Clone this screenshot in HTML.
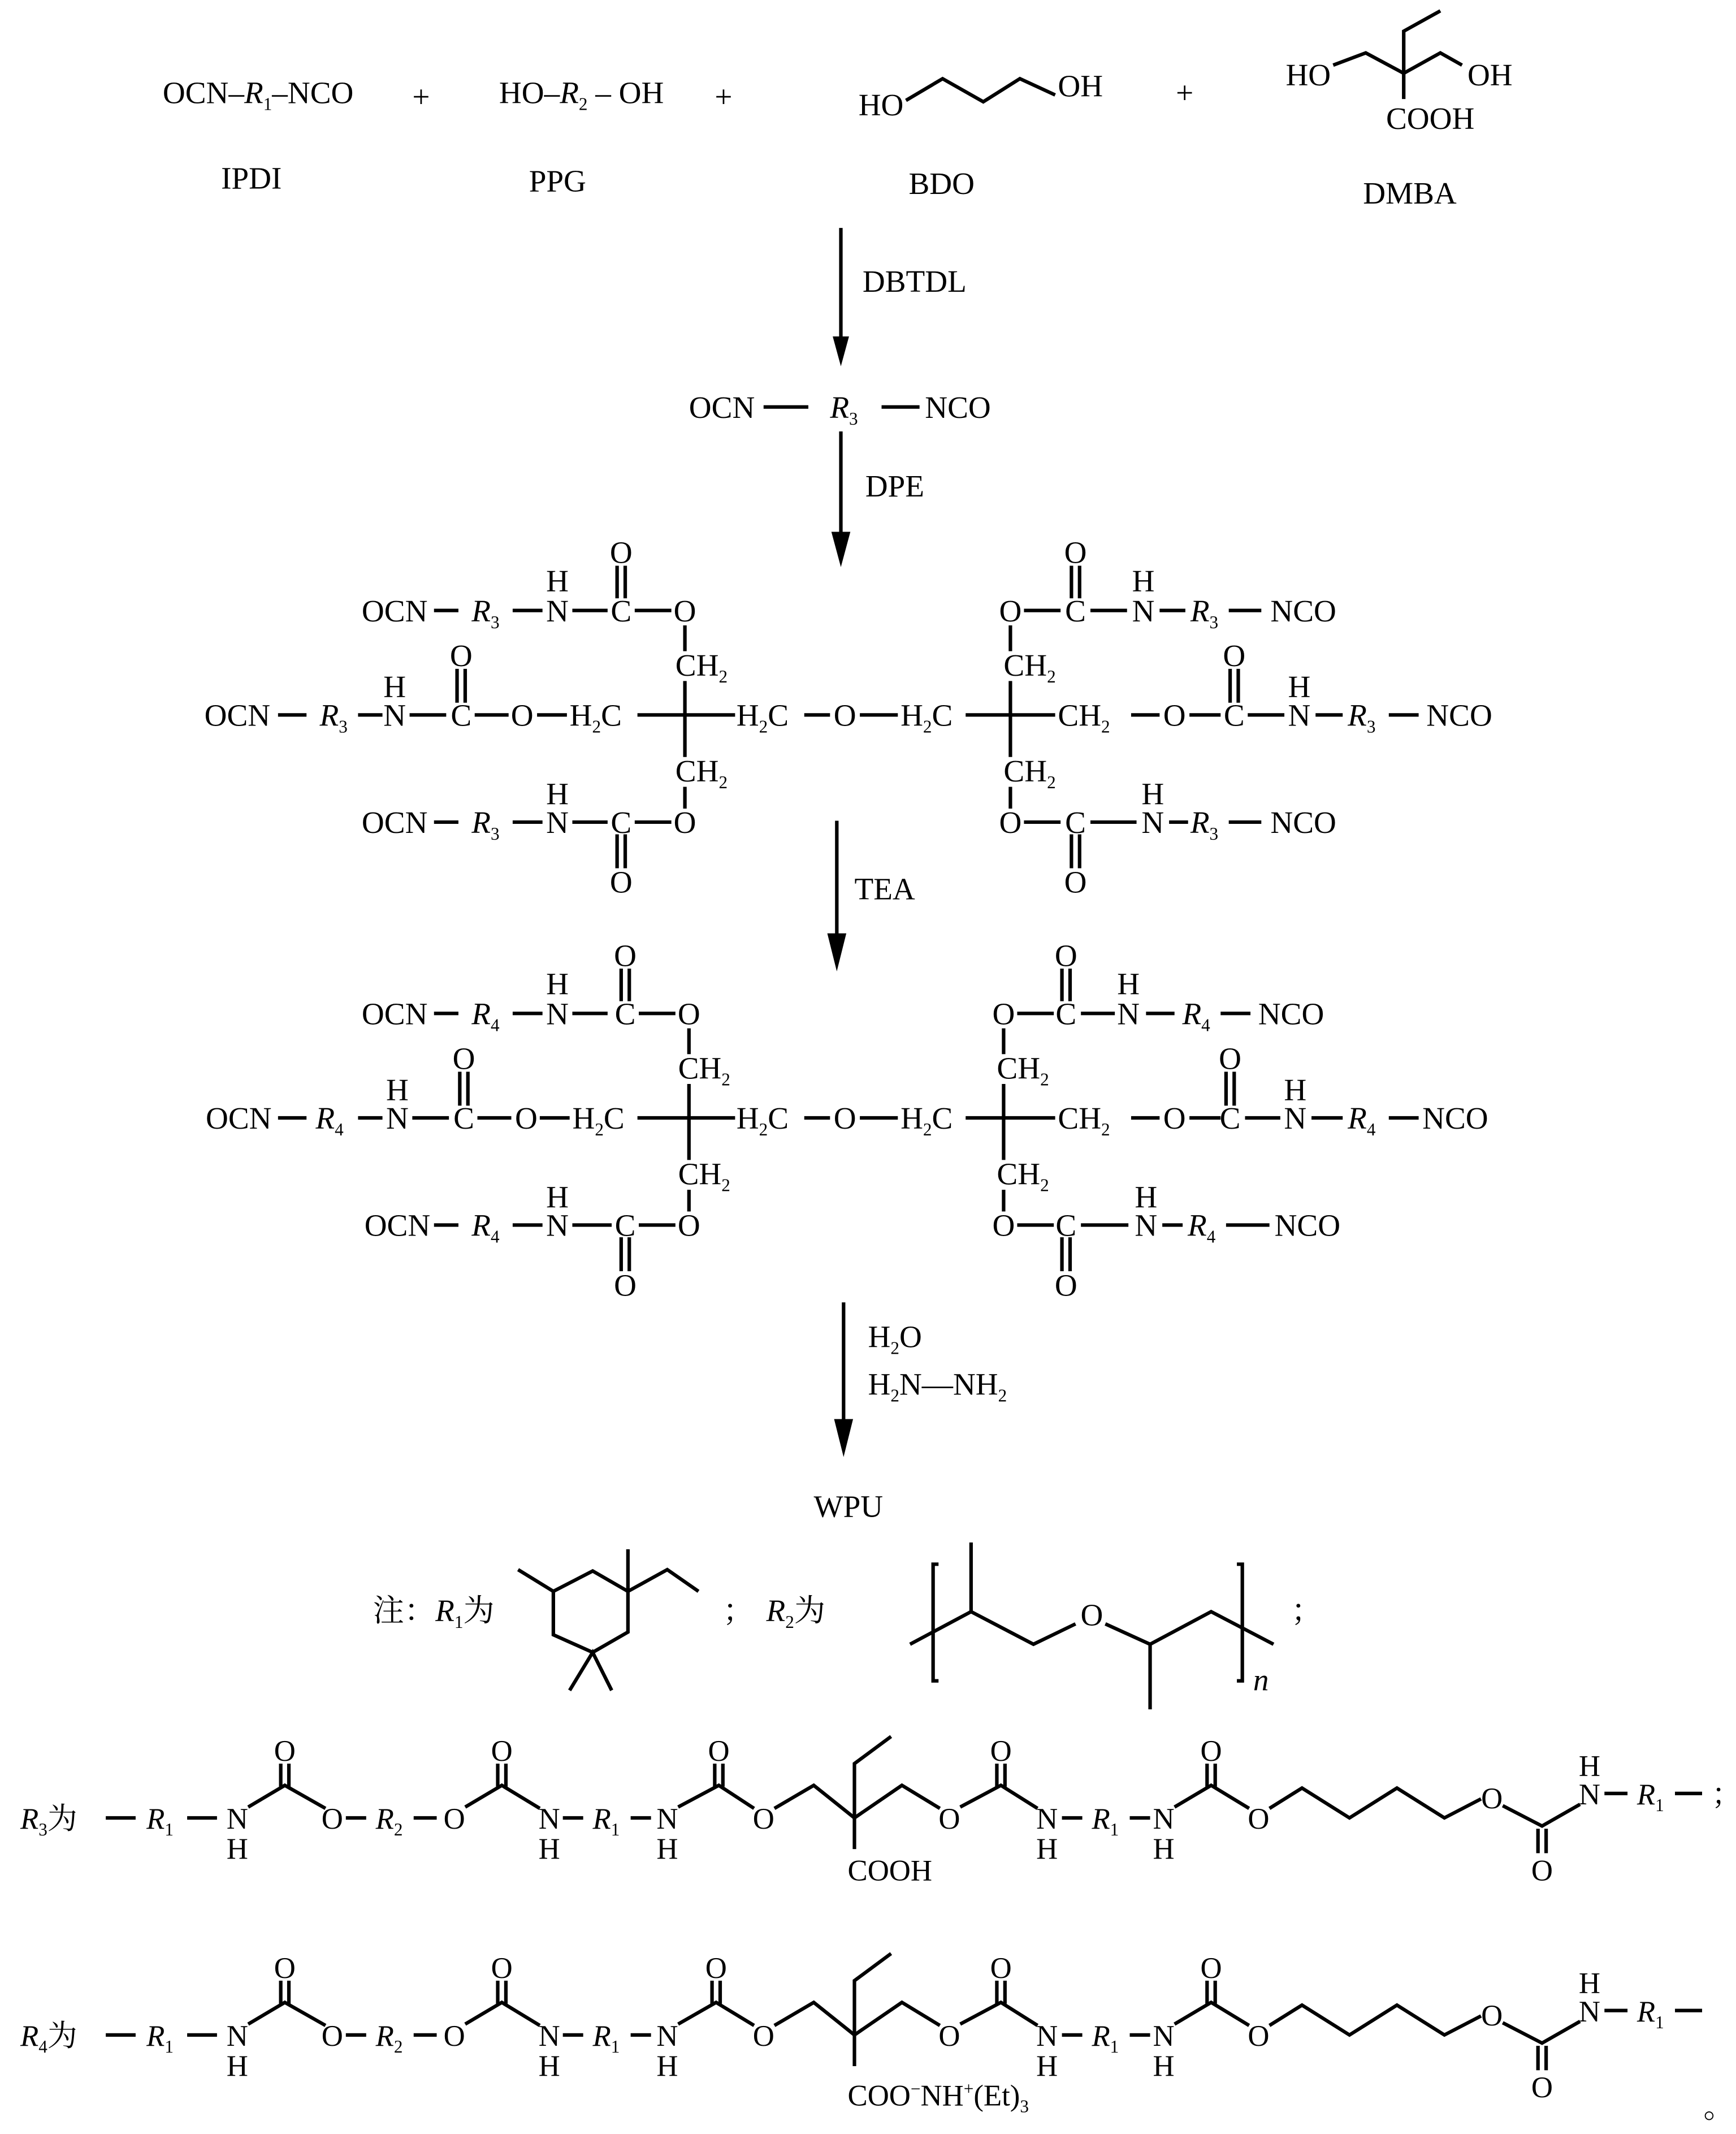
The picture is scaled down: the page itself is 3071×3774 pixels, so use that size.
<!DOCTYPE html>
<html><head><meta charset="utf-8"><style>
html,body{margin:0;padding:0;background:#fff}
svg{display:block}
text{font-family:"Liberation Serif","Noto Serif CJK SC","Noto Sans CJK SC",serif;font-size:23px;fill:#000}
.m{text-anchor:middle}
.s{font-size:13px}
.i{font-style:italic}
.b text{font-size:22px}
.b .s{font-size:13px}
line,polyline{stroke:#000;stroke-width:2.6;fill:none}
</style></head><body>
<svg width="3071" height="3774" viewBox="0 0 1280 1573" xmlns="http://www.w3.org/2000/svg">
<!-- Row 1 -->
<text x="120" y="76">OCN–<tspan class="i">R</tspan><tspan class="s" dy="5">1</tspan><tspan dy="-5">–NCO</tspan></text>
<text x="304" y="79">+</text>
<text x="368" y="76">HO–<tspan class="i">R</tspan><tspan class="s" dy="5">2</tspan><tspan dy="-5"> – OH</tspan></text>
<text x="527" y="79">+</text>
<text x="633" y="85">HO</text>
<polyline points="668,74 695,58 725,75 752,58 778,70"/>
<text x="780" y="71">OH</text>
<text x="867" y="76">+</text>
<text x="948" y="63">HO</text>
<polyline points="983,48 1007,39 1035,54 1062,39 1078,48"/>
<polyline points="1035,73 1035,23 1062,8"/>
<text x="1082" y="63">OH</text>
<text x="1022" y="95">COOH</text>
<text x="163" y="139">IPDI</text>
<text x="390" y="141">PPG</text>
<text x="670" y="143">BDO</text>
<text x="1005" y="150">DMBA</text>
<!-- arrow 1 -->
<line x1="620" y1="168" x2="620" y2="252"/><polygon points="614,248 626,248 620,270"/>
<text x="636" y="215">DBTDL</text>
<text x="508" y="308">OCN</text><line x1="563" y1="300" x2="596" y2="300"/>
<text x="612" y="308"><tspan class="i">R</tspan><tspan class="s" dy="5">3</tspan></text>
<line x1="650" y1="300" x2="678" y2="300"/><text x="682" y="308">NCO</text>
<line x1="620" y1="318" x2="620" y2="395"/><polygon points="613,392 627,392 620,418"/>
<text x="638" y="366">DPE</text>

<!-- Structure 1 -->
<g>
<text class="m" x="291" y="458">OCN</text><line x1="320" y1="450" x2="338" y2="450"/>
<text class="m" x="358" y="458"><tspan class="i">R</tspan><tspan class="s" dy="5">3</tspan></text><line x1="378" y1="450" x2="400" y2="450"/>
<text class="m" x="411" y="458">N</text><text class="m" x="411" y="436">H</text><line x1="422" y1="450" x2="448" y2="450"/>
<text class="m" x="458" y="458">C</text><text class="m" x="458" y="415">O</text>
<line x1="455" y1="417" x2="455" y2="441"/><line x1="461" y1="417" x2="461" y2="441"/>
<line x1="468" y1="450" x2="495" y2="450"/><text class="m" x="505" y="458">O</text>
<line x1="505" y1="461" x2="505" y2="480"/><text x="498" y="498">CH<tspan class="s" dy="5">2</tspan></text>
<line x1="505" y1="502" x2="505" y2="558"/><line x1="470" y1="527" x2="542" y2="527"/>
<text x="498" y="576">CH<tspan class="s" dy="5">2</tspan></text><line x1="505" y1="580" x2="505" y2="596"/>
<text class="m" x="505" y="614">O</text><line x1="468" y1="606" x2="495" y2="606"/>
<text class="m" x="458" y="614">C</text><text class="m" x="458" y="658">O</text>
<line x1="455" y1="615" x2="455" y2="640"/><line x1="461" y1="615" x2="461" y2="640"/>
<line x1="422" y1="606" x2="448" y2="606"/><text class="m" x="411" y="614">N</text><text class="m" x="411" y="593">H</text>
<line x1="378" y1="606" x2="400" y2="606"/><text class="m" x="358" y="614"><tspan class="i">R</tspan><tspan class="s" dy="5">3</tspan></text>
<line x1="320" y1="606" x2="338" y2="606"/><text class="m" x="291" y="614">OCN</text>
<text class="m" x="175" y="535">OCN</text><line x1="205" y1="527" x2="226" y2="527"/>
<text class="m" x="246" y="535"><tspan class="i">R</tspan><tspan class="s" dy="5">3</tspan></text><line x1="264" y1="527" x2="282" y2="527"/>
<text class="m" x="291" y="535">N</text><text class="m" x="291" y="514">H</text><line x1="302" y1="527" x2="329" y2="527"/>
<text class="m" x="340" y="535">C</text><text class="m" x="340" y="491">O</text>
<line x1="337" y1="493" x2="337" y2="518"/><line x1="343" y1="493" x2="343" y2="518"/>
<line x1="350" y1="527" x2="375" y2="527"/><text class="m" x="385" y="535">O</text>
<line x1="396" y1="527" x2="418" y2="527"/><text x="420" y="535">H<tspan class="s" dy="5">2</tspan><tspan dy="-5">C</tspan></text>
<text x="543" y="535">H<tspan class="s" dy="5">2</tspan><tspan dy="-5">C</tspan></text>
<line x1="593" y1="527" x2="612" y2="527"/><text class="m" x="623" y="535">O</text><line x1="634" y1="527" x2="662" y2="527"/>
<text x="664" y="535">H<tspan class="s" dy="5">2</tspan><tspan dy="-5">C</tspan></text>
<line x1="712" y1="527" x2="778" y2="527"/><line x1="745" y1="502" x2="745" y2="558"/>
<text x="780" y="535">CH<tspan class="s" dy="5">2</tspan></text>
<line x1="834" y1="527" x2="855" y2="527"/><text class="m" x="866" y="535">O</text><line x1="877" y1="527" x2="900" y2="527"/>
<text class="m" x="910" y="535">C</text><text class="m" x="910" y="491">O</text>
<line x1="907" y1="493" x2="907" y2="518"/><line x1="913" y1="493" x2="913" y2="518"/>
<line x1="920" y1="527" x2="947" y2="527"/><text class="m" x="958" y="535">N</text><text class="m" x="958" y="514">H</text>
<line x1="970" y1="527" x2="990" y2="527"/><text class="m" x="1004" y="535"><tspan class="i">R</tspan><tspan class="s" dy="5">3</tspan></text>
<line x1="1024" y1="527" x2="1046" y2="527"/><text class="m" x="1076" y="535">NCO</text>
<text class="m" x="745" y="458">O</text><line x1="755" y1="450" x2="782" y2="450"/>
<text class="m" x="793" y="458">C</text><text class="m" x="793" y="415">O</text>
<line x1="790" y1="417" x2="790" y2="441"/><line x1="796" y1="417" x2="796" y2="441"/>
<line x1="804" y1="450" x2="831" y2="450"/><text class="m" x="843" y="458">N</text><text class="m" x="843" y="436">H</text>
<line x1="855" y1="450" x2="874" y2="450"/><text class="m" x="888" y="458"><tspan class="i">R</tspan><tspan class="s" dy="5">3</tspan></text>
<line x1="906" y1="450" x2="930" y2="450"/><text class="m" x="961" y="458">NCO</text>
<line x1="745" y1="461" x2="745" y2="480"/><text x="740" y="498">CH<tspan class="s" dy="5">2</tspan></text>
<text x="740" y="576">CH<tspan class="s" dy="5">2</tspan></text><line x1="745" y1="580" x2="745" y2="596"/>
<text class="m" x="745" y="614">O</text><line x1="755" y1="606" x2="782" y2="606"/>
<text class="m" x="793" y="614">C</text><text class="m" x="793" y="658">O</text>
<line x1="790" y1="615" x2="790" y2="640"/><line x1="796" y1="615" x2="796" y2="640"/>
<line x1="804" y1="606" x2="838" y2="606"/><text class="m" x="850" y="614">N</text><text class="m" x="850" y="593">H</text>
<line x1="862" y1="606" x2="876" y2="606"/><text class="m" x="888" y="614"><tspan class="i">R</tspan><tspan class="s" dy="5">3</tspan></text>
<line x1="906" y1="606" x2="930" y2="606"/><text class="m" x="961" y="614">NCO</text>
</g>
<!-- arrow 3 -->
<line x1="617" y1="605" x2="617" y2="692"/><polygon points="610,688 624,688 617,716"/>
<text x="630" y="663">TEA</text>

<!-- Structure 2 -->
<g transform="translate(0,297)">
<text class="m" x="291" y="458">OCN</text><line x1="320" y1="450" x2="338" y2="450"/>
<text class="m" x="358" y="458"><tspan class="i">R</tspan><tspan class="s" dy="5">4</tspan></text><line x1="378" y1="450" x2="400" y2="450"/>
<text class="m" x="411" y="458">N</text><text class="m" x="411" y="436">H</text><line x1="422" y1="450" x2="448" y2="450"/>
<text class="m" x="461" y="458">C</text><text class="m" x="461" y="415">O</text>
<line x1="458" y1="417" x2="458" y2="441"/><line x1="464" y1="417" x2="464" y2="441"/>
<line x1="471" y1="450" x2="498" y2="450"/><text class="m" x="508" y="458">O</text>
<line x1="508" y1="461" x2="508" y2="480"/><text x="500" y="498">CH<tspan class="s" dy="5">2</tspan></text>
<line x1="508" y1="502" x2="508" y2="558"/><line x1="470" y1="527" x2="542" y2="527"/>
<text x="500" y="576">CH<tspan class="s" dy="5">2</tspan></text><line x1="508" y1="580" x2="508" y2="596"/>
<text class="m" x="508" y="614">O</text><line x1="471" y1="606" x2="498" y2="606"/>
<text class="m" x="461" y="614">C</text><text class="m" x="461" y="658">O</text>
<line x1="458" y1="615" x2="458" y2="640"/><line x1="464" y1="615" x2="464" y2="640"/>
<line x1="422" y1="606" x2="451" y2="606"/><text class="m" x="411" y="614">N</text><text class="m" x="411" y="593">H</text>
<line x1="378" y1="606" x2="400" y2="606"/><text class="m" x="358" y="614"><tspan class="i">R</tspan><tspan class="s" dy="5">4</tspan></text>
<line x1="320" y1="606" x2="338" y2="606"/><text class="m" x="293" y="614">OCN</text>
<text class="m" x="176" y="535">OCN</text><line x1="205" y1="527" x2="226" y2="527"/>
<text class="m" x="243" y="535"><tspan class="i">R</tspan><tspan class="s" dy="5">4</tspan></text><line x1="264" y1="527" x2="282" y2="527"/>
<text class="m" x="293" y="535">N</text><text class="m" x="293" y="514">H</text><line x1="304" y1="527" x2="331" y2="527"/>
<text class="m" x="342" y="535">C</text><text class="m" x="342" y="491">O</text>
<line x1="339" y1="493" x2="339" y2="518"/><line x1="345" y1="493" x2="345" y2="518"/>
<line x1="352" y1="527" x2="377" y2="527"/><text class="m" x="388" y="535">O</text>
<line x1="398" y1="527" x2="420" y2="527"/><text x="422" y="535">H<tspan class="s" dy="5">2</tspan><tspan dy="-5">C</tspan></text>
<text x="543" y="535">H<tspan class="s" dy="5">2</tspan><tspan dy="-5">C</tspan></text>
<line x1="593" y1="527" x2="612" y2="527"/><text class="m" x="623" y="535">O</text><line x1="634" y1="527" x2="662" y2="527"/>
<text x="664" y="535">H<tspan class="s" dy="5">2</tspan><tspan dy="-5">C</tspan></text>
<line x1="712" y1="527" x2="778" y2="527"/><line x1="740" y1="502" x2="740" y2="558"/>
<text x="780" y="535">CH<tspan class="s" dy="5">2</tspan></text>
<line x1="834" y1="527" x2="855" y2="527"/><text class="m" x="866" y="535">O</text><line x1="877" y1="527" x2="900" y2="527"/>
<text class="m" x="907" y="535">C</text><text class="m" x="907" y="491">O</text>
<line x1="904" y1="493" x2="904" y2="518"/><line x1="910" y1="493" x2="910" y2="518"/>
<line x1="918" y1="527" x2="944" y2="527"/><text class="m" x="955" y="535">N</text><text class="m" x="955" y="514">H</text>
<line x1="967" y1="527" x2="990" y2="527"/><text class="m" x="1004" y="535"><tspan class="i">R</tspan><tspan class="s" dy="5">4</tspan></text>
<line x1="1024" y1="527" x2="1046" y2="527"/><text class="m" x="1073" y="535">NCO</text>
<text class="m" x="740" y="458">O</text><line x1="750" y1="450" x2="777" y2="450"/>
<text class="m" x="786" y="458">C</text><text class="m" x="786" y="415">O</text>
<line x1="783" y1="417" x2="783" y2="441"/><line x1="789" y1="417" x2="789" y2="441"/>
<line x1="797" y1="450" x2="822" y2="450"/><text class="m" x="832" y="458">N</text><text class="m" x="832" y="436">H</text>
<line x1="845" y1="450" x2="866" y2="450"/><text class="m" x="882" y="458"><tspan class="i">R</tspan><tspan class="s" dy="5">4</tspan></text>
<line x1="900" y1="450" x2="922" y2="450"/><text class="m" x="952" y="458">NCO</text>
<line x1="740" y1="461" x2="740" y2="480"/><text x="735" y="498">CH<tspan class="s" dy="5">2</tspan></text>
<text x="735" y="576">CH<tspan class="s" dy="5">2</tspan></text><line x1="740" y1="580" x2="740" y2="596"/>
<text class="m" x="740" y="614">O</text><line x1="750" y1="606" x2="777" y2="606"/>
<text class="m" x="786" y="614">C</text><text class="m" x="786" y="658">O</text>
<line x1="783" y1="615" x2="783" y2="640"/><line x1="789" y1="615" x2="789" y2="640"/>
<line x1="797" y1="606" x2="832" y2="606"/><text class="m" x="845" y="614">N</text><text class="m" x="845" y="593">H</text>
<line x1="857" y1="606" x2="872" y2="606"/><text class="m" x="886" y="614"><tspan class="i">R</tspan><tspan class="s" dy="5">4</tspan></text>
<line x1="904" y1="606" x2="936" y2="606"/><text class="m" x="964" y="614">NCO</text>
</g>
<!-- arrow 4 -->
<line x1="622" y1="960" x2="622" y2="1050"/><polygon points="615,1046 629,1046 622,1074"/>
<text x="640" y="993">H<tspan class="s" dy="5">2</tspan><tspan dy="-5">O</tspan></text>
<text x="640" y="1028">H<tspan class="s" dy="5">2</tspan><tspan dy="-5">N—NH</tspan><tspan class="s" dy="5">2</tspan></text>
<text x="600" y="1118">WPU</text>

<!-- Note -->
<text x="275" y="1195">注：<tspan class="i">R</tspan><tspan class="s" dy="5">1</tspan><tspan dy="-5">为</tspan></text>
<polyline points="382,1157 408,1173 437,1158 463,1173 492,1157 515,1173"/>
<polyline points="463,1142 463,1203 437,1218 408,1205 408,1173"/>
<polyline points="420,1246 437,1218 451,1246"/>
<text x="533" y="1195">；</text>
<text x="565" y="1195"><tspan class="i">R</tspan><tspan class="s" dy="5">2</tspan><tspan dy="-5">为</tspan></text>
<polyline points="692,1153 688,1153 688,1239 692,1239"/>
<polyline points="912,1153 916,1153 916,1239 912,1239"/>
<polyline points="671,1212 716,1188 762,1212 793,1197"/>
<line x1="716" y1="1188" x2="716" y2="1137"/>
<text class="m" x="805" y="1198">O</text>
<polyline points="815,1197 848,1212 893,1188 939,1212"/>
<line x1="848" y1="1212" x2="848" y2="1260"/>
<text x="924" y="1246" class="i">n</text>
<text x="952" y="1195">；</text>

<!-- R3 row -->
<g class="b">
<text x="15" y="1348"><tspan class="i">R</tspan><tspan class="s" dy="5">3</tspan><tspan dy="-5">为</tspan></text>
<line x1="78" y1="1340" x2="100" y2="1340"/>
<text x="108" y="1348"><tspan class="i">R</tspan><tspan class="s" dy="5">1</tspan></text>
<line x1="138" y1="1340" x2="160" y2="1340"/>
<text class="m" x="175" y="1348">N</text><text class="m" x="175" y="1370">H</text>
<polyline points="183,1332 210,1316 240,1333"/><line x1="207" y1="1300" x2="207" y2="1317"/><line x1="213" y1="1300" x2="213" y2="1317"/><text class="m" x="210" y="1298">O</text>
<text class="m" x="245" y="1348">O</text><line x1="255" y1="1340" x2="270" y2="1340"/>
<text class="m" x="287" y="1348"><tspan class="i">R</tspan><tspan class="s" dy="5">2</tspan></text>
<line x1="305" y1="1340" x2="322" y2="1340"/><text class="m" x="335" y="1348">O</text>
<polyline points="343,1332 370,1316 398,1333"/><line x1="367" y1="1300" x2="367" y2="1317"/><line x1="373" y1="1300" x2="373" y2="1317"/><text class="m" x="370" y="1298">O</text>
<text class="m" x="405" y="1348">N</text><text class="m" x="405" y="1370">H</text>
<line x1="415" y1="1340" x2="430" y2="1340"/><text class="m" x="447" y="1348"><tspan class="i">R</tspan><tspan class="s" dy="5">1</tspan></text>
<line x1="465" y1="1340" x2="480" y2="1340"/><text class="m" x="492" y="1348">N</text><text class="m" x="492" y="1370">H</text>
<polyline points="500,1332 530,1316 556,1333"/><line x1="527" y1="1300" x2="527" y2="1317"/><line x1="533" y1="1300" x2="533" y2="1317"/><text class="m" x="530" y="1298">O</text>
<text class="m" x="563" y="1348">O</text>
<polyline points="571,1333 600,1316 630,1340 665,1316 693,1333"/>
<polyline points="630,1363 630,1300 657,1280"/>
<text x="625" y="1386">COOH</text>
<text class="m" x="700" y="1348">O</text>
<polyline points="708,1332 738,1316 765,1333"/><line x1="735" y1="1300" x2="735" y2="1317"/><line x1="741" y1="1300" x2="741" y2="1317"/><text class="m" x="738" y="1298">O</text>
<text class="m" x="772" y="1348">N</text><text class="m" x="772" y="1370">H</text>
<line x1="783" y1="1340" x2="798" y2="1340"/><text class="m" x="815" y="1348"><tspan class="i">R</tspan><tspan class="s" dy="5">1</tspan></text>
<line x1="833" y1="1340" x2="848" y2="1340"/><text class="m" x="858" y="1348">N</text><text class="m" x="858" y="1370">H</text>
<polyline points="866,1332 893,1316 921,1333"/><line x1="890" y1="1300" x2="890" y2="1317"/><line x1="896" y1="1300" x2="896" y2="1317"/><text class="m" x="893" y="1298">O</text>
<text class="m" x="928" y="1348">O</text>
<polyline points="936,1333 960,1318 995,1340 1030,1318 1065,1340 1092,1326"/>
<text class="m" x="1100" y="1333">O</text>
<polyline points="1108,1331 1137,1346 1165,1330"/>
<line x1="1134" y1="1348" x2="1134" y2="1366"/><line x1="1140" y1="1348" x2="1140" y2="1366"/><text class="m" x="1137" y="1386">O</text>
<text class="m" x="1172" y="1330">N</text><text class="m" x="1172" y="1309">H</text>
<line x1="1183" y1="1322" x2="1200" y2="1322"/><text x="1207" y="1330"><tspan class="i">R</tspan><tspan class="s" dy="5">1</tspan></text>
<line x1="1235" y1="1322" x2="1255" y2="1322"/>
<text x="1262" y="1330">；</text>
</g>
<!-- R4 row -->
<g class="b" transform="translate(0,160)">
<text x="15" y="1348"><tspan class="i">R</tspan><tspan class="s" dy="5">4</tspan><tspan dy="-5">为</tspan></text>
<line x1="78" y1="1340" x2="100" y2="1340"/>
<text x="108" y="1348"><tspan class="i">R</tspan><tspan class="s" dy="5">1</tspan></text>
<line x1="138" y1="1340" x2="160" y2="1340"/>
<text class="m" x="175" y="1348">N</text><text class="m" x="175" y="1370">H</text>
<polyline points="183,1332 210,1316 240,1333"/><line x1="207" y1="1300" x2="207" y2="1317"/><line x1="213" y1="1300" x2="213" y2="1317"/><text class="m" x="210" y="1298">O</text>
<text class="m" x="245" y="1348">O</text><line x1="255" y1="1340" x2="270" y2="1340"/>
<text class="m" x="287" y="1348"><tspan class="i">R</tspan><tspan class="s" dy="5">2</tspan></text>
<line x1="305" y1="1340" x2="322" y2="1340"/><text class="m" x="335" y="1348">O</text>
<polyline points="343,1332 370,1316 398,1333"/><line x1="367" y1="1300" x2="367" y2="1317"/><line x1="373" y1="1300" x2="373" y2="1317"/><text class="m" x="370" y="1298">O</text>
<text class="m" x="405" y="1348">N</text><text class="m" x="405" y="1370">H</text>
<line x1="415" y1="1340" x2="430" y2="1340"/><text class="m" x="447" y="1348"><tspan class="i">R</tspan><tspan class="s" dy="5">1</tspan></text>
<line x1="465" y1="1340" x2="480" y2="1340"/><text class="m" x="492" y="1348">N</text><text class="m" x="492" y="1370">H</text>
<polyline points="500,1332 528,1316 556,1333"/><line x1="525" y1="1300" x2="525" y2="1317"/><line x1="531" y1="1300" x2="531" y2="1317"/><text class="m" x="528" y="1298">O</text>
<text class="m" x="563" y="1348">O</text>
<polyline points="571,1333 600,1316 630,1340 665,1316 693,1333"/>
<polyline points="630,1363 630,1300 657,1280"/>
<text x="625" y="1392">COO<tspan class="s" dy="-8">−</tspan><tspan dy="8">NH</tspan><tspan class="s" dy="-8">+</tspan><tspan dy="8">(Et)</tspan><tspan class="s" dy="5">3</tspan></text>
<text class="m" x="700" y="1348">O</text>
<polyline points="708,1332 738,1316 765,1333"/><line x1="735" y1="1300" x2="735" y2="1317"/><line x1="741" y1="1300" x2="741" y2="1317"/><text class="m" x="738" y="1298">O</text>
<text class="m" x="772" y="1348">N</text><text class="m" x="772" y="1370">H</text>
<line x1="783" y1="1340" x2="798" y2="1340"/><text class="m" x="815" y="1348"><tspan class="i">R</tspan><tspan class="s" dy="5">1</tspan></text>
<line x1="833" y1="1340" x2="848" y2="1340"/><text class="m" x="858" y="1348">N</text><text class="m" x="858" y="1370">H</text>
<polyline points="866,1332 893,1316 921,1333"/><line x1="890" y1="1300" x2="890" y2="1317"/><line x1="896" y1="1300" x2="896" y2="1317"/><text class="m" x="893" y="1298">O</text>
<text class="m" x="928" y="1348">O</text>
<polyline points="936,1333 960,1318 995,1340 1030,1318 1065,1340 1092,1326"/>
<text class="m" x="1100" y="1333">O</text>
<polyline points="1108,1331 1137,1346 1165,1330"/>
<line x1="1134" y1="1348" x2="1134" y2="1366"/><line x1="1140" y1="1348" x2="1140" y2="1366"/><text class="m" x="1137" y="1386">O</text>
<text class="m" x="1172" y="1330">N</text><text class="m" x="1172" y="1309">H</text>
<line x1="1183" y1="1322" x2="1200" y2="1322"/><text x="1207" y="1330"><tspan class="i">R</tspan><tspan class="s" dy="5">1</tspan></text>
<line x1="1235" y1="1322" x2="1255" y2="1322"/>
</g>
<text x="1256" y="1561">。</text>
</svg>
</body></html>
